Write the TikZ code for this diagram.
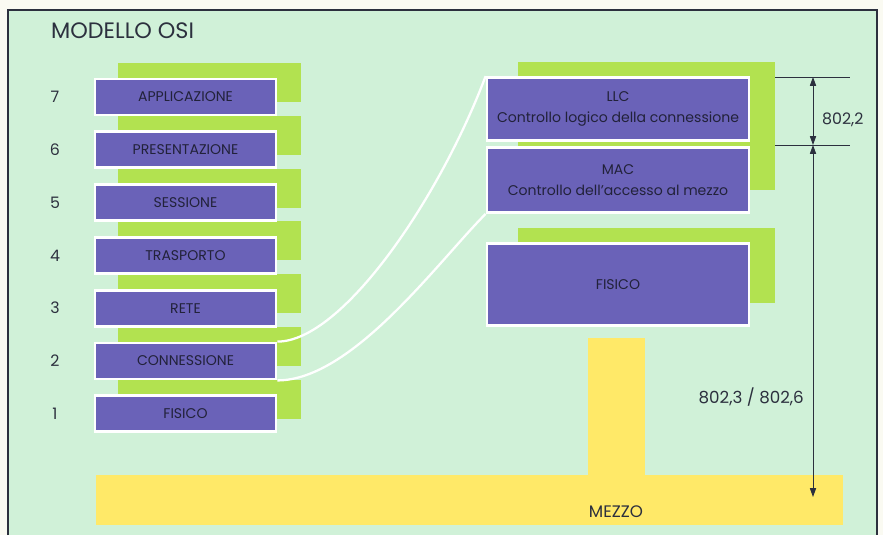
\documentclass[tikz,border=0pt]{standalone}
\usepackage{fontspec}
\setmainfont{Poppins}
\usepackage{tikz}
\usetikzlibrary{arrows.meta,positioning,calc}
\definecolor{paper}{RGB}{250,250,242}
\definecolor{mint}{RGB}{208,241,216}
\definecolor{layerblue}{RGB}{106,98,184}
\definecolor{limegreen}{RGB}{178,226,80}
\definecolor{mezzoyellow}{RGB}{255,233,104}
\definecolor{inkgray}{RGB}{44,48,62}
\definecolor{layerink}{RGB}{34,34,58}

\begin{document}
\begin{tikzpicture}[x=0.02cm,y=-0.02cm,
  layer/.style={draw=white,line width=1.6pt,fill=layerblue,text=layerink,inner sep=0pt,align=center,
                font=\fontsize{8}{11.5}\selectfont},
  link/.style={white,line width=1.3pt},
  dimline/.style={inkgray,line width=0.5pt},
  dimtips/.style={{Triangle[length=5pt,width=3.5pt]}-{Triangle[length=5pt,width=3.5pt]}}]
  % ---- background and frame ----
  \fill[paper] (0,0) rectangle (883,535);
  \fill[mint] (8,10) rectangle (877,535);
  \draw[inkgray,line width=0.8pt] (8,535) -- (8,10) -- (877,10) -- (877,535);
  \node[font=\fontsize{12.7}{15}\selectfont,text=inkgray,anchor=west] (title) at (45,31) {MODELLO OSI};

  % ---- OSI stack (7 layers, pitch 52.8) ----
  \def\pitch{52.8}
  \foreach \n in {7,...,1}{
    \pgfmathsetmacro{\cy}{97+(7-\n)*\pitch}
    \fill[limegreen] (118,\cy-34) rectangle (301,\cy+5);
  }
  \foreach \n/\lbl in {7/APPLICAZIONE,6/PRESENTAZIONE,5/SESSIONE,4/TRASPORTO,3/RETE,2/CONNESSIONE,1/FISICO}{
    \pgfmathsetmacro{\cy}{97+(7-\n)*\pitch}
    \node[layer,minimum width=3.62cm,minimum height=0.72cm] (osi\n) at (185.5,\cy) {\lbl};
    \node[font=\fontsize{9}{10}\selectfont,text=inkgray] (num\n) at (55,\cy) {\n};
  }

  % ---- IEEE 802 stack ----
  \fill[limegreen] (518,62) rectangle (775,190);
  \fill[limegreen] (518,228) rectangle (775,303);
  \node[layer,minimum width=5.24cm,minimum height=1.26cm] (llc) at (618,109)
    {LLC\\Controllo logico della connessione};
  \node[layer,minimum width=5.24cm,minimum height=1.3cm] (mac) at (618,180)
    {MAC\\Controllo dell'accesso al mezzo};
  \node[layer,minimum width=5.24cm,minimum height=1.64cm] (phy) at (618,284.5) {FISICO};

  % ---- medium ----
  \fill[mezzoyellow] (588,338) rectangle (645,476);
  \fill[mezzoyellow] (96,475) rectangle (843,525);
  \node[font=\fontsize{9.5}{10}\selectfont,text=inkgray] (mezzo) at (616,512) {MEZZO};

  % ---- mapping of layer 2 ----
  \draw[link] (osi2.north east) .. controls +(65,0) and +(-46,122) .. (llc.north west);
  \draw[link] (osi2.south east) .. controls +(75,0) and +(-47,47) .. (mac.south west);

  % ---- dimensions ----
  \coordinate (dtop) at (813,77);
  \coordinate (dmid) at (813,145);
  \coordinate (dbot) at (813,497);
  \draw[dimline] (775,77) -- (850,77);
  \draw[dimline] (775,145) -- (850,145);
  \draw[dimline,dimtips] (dtop) -- (dmid);
  \draw[dimline,dimtips] (dmid) -- (dbot);
  \node[font=\fontsize{9}{10}\selectfont,text=inkgray,anchor=west] (std1) at (816,120) {802,2};
  \node[font=\fontsize{9.5}{10}\selectfont,text=inkgray,anchor=east] (std2) at (810,397) {802,3 / 802,6};
\end{tikzpicture}
\end{document}
